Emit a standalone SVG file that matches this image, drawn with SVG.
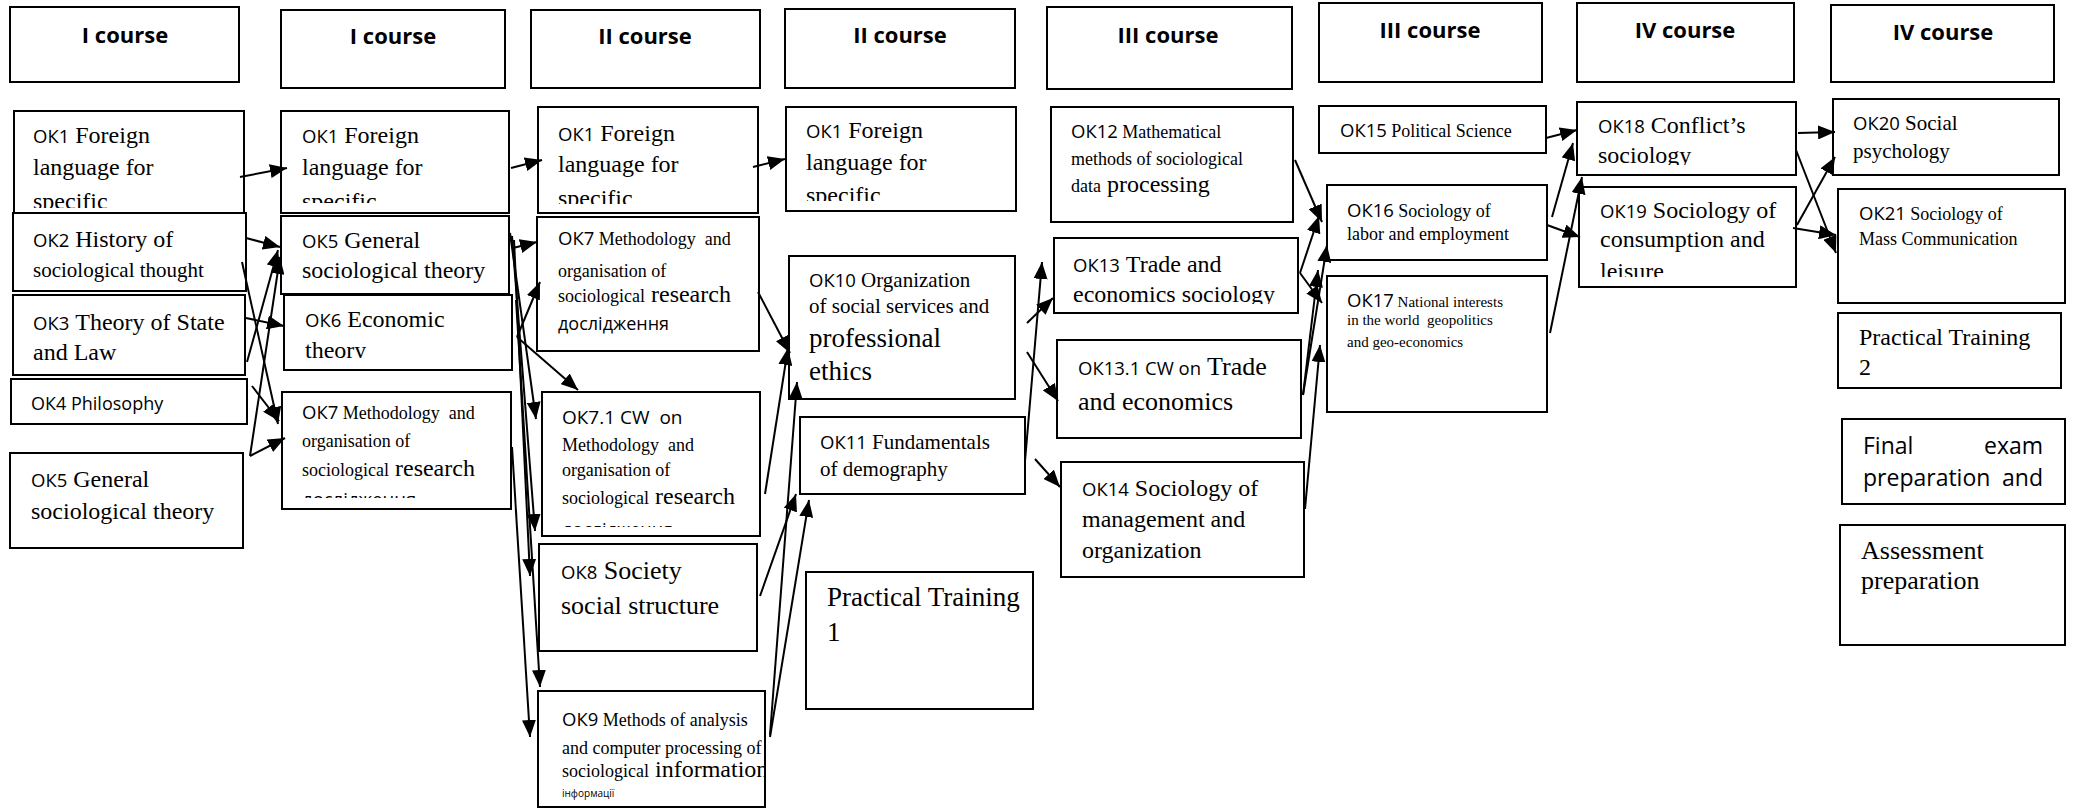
<svg xmlns="http://www.w3.org/2000/svg" width="2073" height="808" viewBox="0 0 2073 808">
<style>
.b{fill:#fff;stroke:#000;stroke-width:2}
text{white-space:pre;fill:#000}
.h{font-family:"Open Sans",sans-serif;font-weight:bold;font-size:22px;text-anchor:middle}
.s{font-family:"Open Sans",sans-serif;font-size:18.5px}
.r{font-family:"Liberation Serif",serif;font-size:24px}
.m{font-family:"Liberation Serif",serif;font-size:18px}
.c line{stroke:#000;stroke-width:2;marker-end:url(#ah)}
</style>
<defs>
<marker id="ah" markerUnits="userSpaceOnUse" markerWidth="18" markerHeight="14" refX="17" refY="7" orient="auto"><path d="M0,0 L17,7 L0,14 z" fill="#000"/></marker>
<clipPath id="k11"><rect x="14" y="111" width="230" height="97"/></clipPath>
<clipPath id="k21"><rect x="281" y="111" width="228" height="92"/></clipPath>
<clipPath id="k26"><rect x="284" y="295" width="228" height="63"/></clipPath>
<clipPath id="k27"><rect x="282" y="392" width="229" height="106"/></clipPath>
<clipPath id="k31"><rect x="538" y="107" width="220" height="97"/></clipPath>
<clipPath id="k371"><rect x="542" y="392" width="218" height="135"/></clipPath>
<clipPath id="k39"><rect x="538" y="691" width="227" height="116"/></clipPath>
<clipPath id="k41"><rect x="786" y="107" width="230" height="94"/></clipPath>
<clipPath id="k513"><rect x="1054" y="238" width="244" height="66"/></clipPath>
<clipPath id="k5131"><rect x="1057" y="340" width="244" height="72"/></clipPath>
<clipPath id="k718"><rect x="1577" y="102" width="219" height="63"/></clipPath>
<clipPath id="k719"><rect x="1579" y="187" width="217" height="90"/></clipPath>
</defs>

<!-- headers -->
<g id="h1"><rect class="b" x="10" y="7" width="229" height="75"/><text class="h" x="125" y="43">I course</text></g>
<g id="h2"><rect class="b" x="281" y="10" width="224" height="78"/><text class="h" x="393" y="44">I course</text></g>
<g id="h3"><rect class="b" x="531" y="10" width="229" height="78"/><text class="h" x="645" y="44">II course</text></g>
<g id="h4"><rect class="b" x="785" y="9" width="230" height="79"/><text class="h" x="900" y="43">II course</text></g>
<g id="h5"><rect class="b" x="1047" y="7" width="245" height="82"/><text class="h" x="1168" y="43">III course</text></g>
<g id="h6"><rect class="b" x="1319" y="3" width="223" height="79"/><text class="h" x="1430" y="38">III course</text></g>
<g id="h7"><rect class="b" x="1577" y="3" width="217" height="79"/><text class="h" x="1685" y="38">IV course</text></g>
<g id="h8"><rect class="b" x="1831" y="5" width="223" height="77"/><text class="h" x="1943" y="40">IV course</text></g>

<!-- column 1 -->
<g id="n1-ok1"><rect class="b" x="14" y="111" width="230" height="102"/>
<g clip-path="url(#k11)">
<text x="33" y="143"><tspan class="s">ОК1</tspan><tspan class="r"> Foreign</tspan></text>
<text class="r" x="33" y="175">language for</text>
<text class="r" x="33" y="209">specific</text></g></g>
<g id="n1-ok2"><rect class="b" x="13" y="213" width="233" height="78"/>
<text x="33" y="247"><tspan class="s">ОК2</tspan><tspan class="r"> History of</tspan></text>
<text class="r" x="33" y="277" style="font-size:21px">sociological thought</text></g>
<g id="n1-ok3"><rect class="b" x="13" y="295" width="232" height="80"/>
<text x="33" y="330"><tspan class="s">ОК3</tspan><tspan class="r"> Theory of State</tspan></text>
<text class="r" x="33" y="360">and Law</text></g>
<g id="n1-ok4"><rect class="b" x="11" y="379" width="236" height="45"/>
<text class="s" x="31" y="410" style="font-size:18px">ОК4 Philosophy</text></g>
<g id="n1-ok5"><rect class="b" x="10" y="453" width="233" height="95"/>
<text x="31" y="487"><tspan class="s">ОК5</tspan><tspan class="r"> General</tspan></text>
<text class="r" x="31" y="519">sociological theory</text></g>

<!-- column 2 -->
<g id="n2-ok1"><rect class="b" x="281" y="111" width="228" height="102"/>
<g clip-path="url(#k21)">
<text x="302" y="143"><tspan class="s">ОК1</tspan><tspan class="r"> Foreign</tspan></text>
<text class="r" x="302" y="175">language for</text>
<text class="r" x="302" y="209">specific</text></g></g>
<g id="n2-ok5"><rect class="b" x="281" y="216" width="228" height="78"/>
<text x="302" y="248"><tspan class="s">ОК5</tspan><tspan class="r"> General</tspan></text>
<text class="r" x="302" y="278">sociological theory</text></g>
<g id="n2-ok6"><rect class="b" x="284" y="295" width="228" height="75"/>
<g clip-path="url(#k26)">
<text x="305" y="327"><tspan class="s">ОК6</tspan><tspan class="r"> Economic</tspan></text>
<text class="r" x="305" y="358">theory</text></g></g>
<g id="n2-ok7"><rect class="b" x="282" y="392" width="229" height="117"/>
<g clip-path="url(#k27)">
<text x="302" y="419"><tspan class="s">ОК7</tspan><tspan class="m"> Methodology  and</tspan></text>
<text class="m" x="302" y="447">organisation of</text>
<text x="302" y="476"><tspan class="m">sociological</tspan><tspan class="r"> research</tspan></text>
<text class="s" x="302" y="506">дослідження</text></g></g>

<!-- column 3 -->
<g id="n3-ok1"><rect class="b" x="538" y="107" width="220" height="106"/>
<g clip-path="url(#k31)">
<text x="558" y="141"><tspan class="s">ОК1</tspan><tspan class="r"> Foreign</tspan></text>
<text class="r" x="558" y="172">language for</text>
<text class="r" x="558" y="206">specific</text></g></g>
<g id="n3-ok7"><rect class="b" x="537" y="217" width="222" height="134"/>
<text x="558" y="245"><tspan class="s">ОК7</tspan><tspan class="m"> Methodology  and</tspan></text>
<text class="m" x="558" y="277">organisation of</text>
<text x="558" y="302"><tspan class="m">sociological</tspan><tspan class="r"> research</tspan></text>
<text class="s" x="558" y="330" style="font-size:18px">дослідження</text></g>
<g id="n3-ok7-1"><rect class="b" x="542" y="392" width="218" height="144"/>
<g clip-path="url(#k371)">
<text class="s" x="562" y="424" style="font-size:19px">ОК7.1 CW  on</text>
<text class="m" x="562" y="451">Methodology  and</text>
<text class="m" x="562" y="476">organisation of</text>
<text x="562" y="504"><tspan class="m">sociological</tspan><tspan class="r"> research</tspan></text>
<text class="s" x="562" y="536" style="font-size:18px">дослідження</text></g></g>
<g id="n3-ok8"><rect class="b" x="539" y="544" width="218" height="107"/>
<text x="561" y="579"><tspan class="s">ОК8</tspan><tspan class="r" style="font-size:26px"> Society</tspan></text>
<text class="r" x="561" y="614" style="font-size:26px">social structure</text></g>
<g id="n3-ok9"><rect class="b" x="538" y="691" width="227" height="116"/>
<g clip-path="url(#k39)">
<text x="562" y="726"><tspan class="s">ОК9</tspan><tspan class="m"> Methods of analysis</tspan></text>
<text class="m" x="562" y="754">and computer processing of</text>
<text x="562" y="777"><tspan class="m">sociological</tspan><tspan class="r"> information</tspan></text>
<text class="s" x="562" y="797" style="font-size:10px">інформації</text></g></g>

<!-- column 4 -->
<g id="n4-ok1"><rect class="b" x="786" y="107" width="230" height="104"/>
<g clip-path="url(#k41)">
<text x="806" y="138"><tspan class="s">ОК1</tspan><tspan class="r"> Foreign</tspan></text>
<text class="r" x="806" y="170">language for</text>
<text class="r" x="806" y="203">specific</text></g></g>
<g id="n4-ok10"><rect class="b" x="789" y="256" width="226" height="143"/>
<text x="809" y="287"><tspan class="s">ОК10</tspan><tspan class="r" style="font-size:21px"> Organization</tspan></text>
<text class="r" x="809" y="313" style="font-size:21px">of social services and</text>
<text class="r" x="809" y="347" style="font-size:27px">professional</text>
<text class="r" x="809" y="380" style="font-size:27px">ethics</text></g>
<g id="n4-ok11"><rect class="b" x="800" y="417" width="225" height="77"/>
<text x="820" y="449"><tspan class="s">ОК11</tspan><tspan class="r" style="font-size:21px"> Fundamentals</tspan></text>
<text class="r" x="820" y="476" style="font-size:21px">of demography</text></g>
<g id="n4-pt1"><rect class="b" x="806" y="572" width="227" height="137"/>
<text class="r" x="827" y="606" style="font-size:27px">Practical Training</text>
<text class="r" x="827" y="641" style="font-size:27px">1</text></g>

<!-- column 5 -->
<g id="n5-ok12"><rect class="b" x="1051" y="107" width="242" height="115"/>
<text x="1071" y="138"><tspan class="s">ОК12</tspan><tspan class="m"> Mathematical</tspan></text>
<text class="m" x="1071" y="165">methods of sociological</text>
<text x="1071" y="192"><tspan class="m">data</tspan><tspan class="r"> processing</tspan></text></g>
<g id="n5-ok13"><rect class="b" x="1054" y="238" width="244" height="75"/>
<g clip-path="url(#k513)">
<text x="1073" y="272"><tspan class="s">ОК13</tspan><tspan class="r"> Trade and</tspan></text>
<text class="r" x="1073" y="302">economics sociology</text></g></g>
<g id="n5-ok13-1"><rect class="b" x="1057" y="340" width="244" height="98"/>
<g clip-path="url(#k5131)">
<text x="1078" y="375"><tspan class="s">ОК13.1 CW on</tspan><tspan class="r" style="font-size:26px"> Trade</tspan></text>
<text class="r" x="1078" y="410" style="font-size:26px">and economics</text></g></g>
<g id="n5-ok14"><rect class="b" x="1061" y="462" width="243" height="115"/>
<text x="1082" y="496"><tspan class="s">ОК14</tspan><tspan class="r"> Sociology of</tspan></text>
<text class="r" x="1082" y="527">management and</text>
<text class="r" x="1082" y="558">organization</text></g>

<!-- column 6 -->
<g id="n6-ok15"><rect class="b" x="1319" y="106" width="227" height="47"/>
<text x="1340" y="137"><tspan class="s">ОК15</tspan><tspan class="m"> Political Science</tspan></text></g>
<g id="n6-ok16"><rect class="b" x="1327" y="185" width="220" height="75"/>
<text x="1347" y="217"><tspan class="s">ОК16</tspan><tspan class="m"> Sociology of</tspan></text>
<text class="m" x="1347" y="240">labor and employment</text></g>
<g id="n6-ok17"><rect class="b" x="1327" y="276" width="220" height="136"/>
<text x="1347" y="307"><tspan class="s">ОК17</tspan><tspan class="m" style="font-size:15px"> National interests</tspan></text>
<text class="m" x="1347" y="325" style="font-size:15px">in the world  geopolitics</text>
<text class="m" x="1347" y="347" style="font-size:15px">and geo-economics</text></g>

<!-- column 7 -->
<g id="n7-ok18"><rect class="b" x="1577" y="102" width="219" height="73"/>
<g clip-path="url(#k718)">
<text x="1598" y="133"><tspan class="s">ОК18</tspan><tspan class="r"> Conflict’s</tspan></text>
<text class="r" x="1598" y="163">sociology</text></g></g>
<g id="n7-ok19"><rect class="b" x="1579" y="187" width="217" height="100"/>
<g clip-path="url(#k719)">
<text x="1600" y="218"><tspan class="s">ОК19</tspan><tspan class="r"> Sociology of</tspan></text>
<text class="r" x="1600" y="247">consumption and</text>
<text class="r" x="1600" y="279">leisure</text></g></g>

<!-- column 8 -->
<g id="n8-ok20"><rect class="b" x="1833" y="99" width="226" height="76"/>
<text x="1853" y="130"><tspan class="s">ОК20</tspan><tspan class="r" style="font-size:21px"> Social</tspan></text>
<text class="r" x="1853" y="158" style="font-size:21px">psychology</text></g>
<g id="n8-ok21"><rect class="b" x="1838" y="189" width="227" height="114"/>
<text x="1859" y="220"><tspan class="s">ОК21</tspan><tspan class="m"> Sociology of</tspan></text>
<text class="m" x="1859" y="245">Mass Communication</text></g>
<g id="n8-pt2"><rect class="b" x="1838" y="313" width="223" height="75"/>
<text class="r" x="1859" y="345">Practical Training</text>
<text class="r" x="1859" y="375">2</text></g>
<g id="n8-final"><rect class="b" x="1842" y="419" width="223" height="85"/>
<text class="s" x="1863" y="454" style="font-size:23px">Final</text>
<text class="s" x="2043" y="454" style="font-size:23px;text-anchor:end">exam</text>
<text class="s" x="1863" y="486" style="font-size:23px">preparation</text>
<text class="s" x="2043" y="486" style="font-size:23px;text-anchor:end">and</text></g>
<g id="n8-assess"><rect class="b" x="1840" y="525" width="225" height="120"/>
<text class="r" x="1861" y="559" style="font-size:26px">Assessment</text>
<text class="r" x="1861" y="589" style="font-size:26px">preparation</text></g>

<!-- connectors -->
<g id="connectors" class="c">
<line x1="240" y1="177" x2="287" y2="168"/>
<line x1="246" y1="238" x2="280" y2="247"/>
<line x1="242" y1="262" x2="278" y2="424"/>
<line x1="246" y1="318" x2="284" y2="326"/>
<line x1="247" y1="362" x2="278" y2="250"/>
<line x1="250" y1="456" x2="280" y2="257"/>
<line x1="252" y1="386" x2="279" y2="421"/>
<line x1="250" y1="456" x2="285" y2="438"/>

<line x1="511" y1="168" x2="542" y2="160"/>
<line x1="513" y1="248" x2="537" y2="242"/>
<line x1="517" y1="337" x2="540" y2="282"/>
<line x1="517" y1="337" x2="578" y2="390"/>
<line x1="510" y1="233" x2="536" y2="419"/>
<line x1="512" y1="236" x2="535" y2="531"/>
<line x1="514" y1="240" x2="530" y2="576"/>
<line x1="516" y1="300" x2="540" y2="687"/>
<line x1="512" y1="447" x2="530" y2="737"/>

<line x1="753" y1="167" x2="785" y2="159"/>
<line x1="758" y1="292" x2="790" y2="353"/>
<line x1="765" y1="494" x2="788" y2="348"/>
<line x1="770" y1="735" x2="797" y2="382"/>
<line x1="760" y1="596" x2="796" y2="494"/>
<line x1="770" y1="737" x2="809" y2="500"/>

<line x1="1025" y1="461" x2="1042" y2="262"/>
<line x1="1027" y1="323" x2="1053" y2="298"/>
<line x1="1027" y1="352" x2="1058" y2="401"/>
<line x1="1035" y1="459" x2="1060" y2="487"/>

<line x1="1295" y1="160" x2="1322" y2="222"/>
<line x1="1300" y1="273" x2="1319" y2="216"/>
<line x1="1300" y1="273" x2="1322" y2="303"/>
<line x1="1303" y1="395" x2="1327" y2="245"/>
<line x1="1303" y1="395" x2="1318" y2="270"/>
<line x1="1305" y1="509" x2="1320" y2="345"/>

<line x1="1546" y1="138" x2="1577" y2="130"/>
<line x1="1552" y1="217" x2="1573" y2="143"/>
<line x1="1547" y1="225" x2="1580" y2="237"/>
<line x1="1550" y1="333" x2="1582" y2="177"/>

<line x1="1798" y1="133" x2="1835" y2="132"/>
<line x1="1796" y1="150" x2="1836" y2="253"/>
<line x1="1797" y1="225" x2="1835" y2="157"/>
<line x1="1793" y1="228" x2="1836" y2="235"/>
</g>
</svg>
